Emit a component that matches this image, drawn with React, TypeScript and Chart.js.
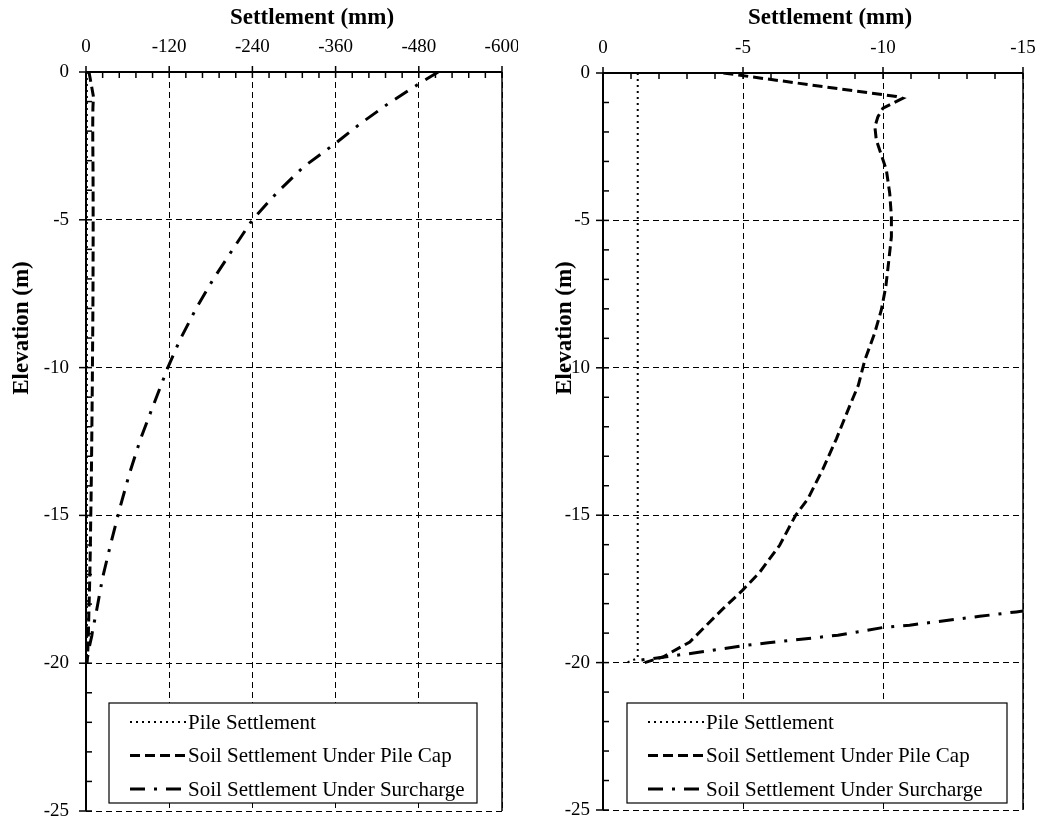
import React, { useEffect, useRef } from "react";
import { Chart, registerables } from "chart.js";

Chart.register(...registerables);

// ---------------- data ----------------
const seriesLabels = [
  "Pile Settlement",
  "Soil Settlement Under Pile Cap",
  "Soil Settlement Under Surcharge",
];

const pileElevation = [0, -19.85, -20];
const pileSettlement = [-1.24, -1.24, -0.85];

const capElevation = [
  0, -0.8, -0.86, -1.19, -1.48, -1.82, -2.27, -2.78, -3.29, -4.08, -4.87, -5.55,
  -6.34, -7.25, -8.04, -8.83, -9.74, -10.59, -11.27, -12.4, -13.42, -14.44, -15.0,
  -16.02, -16.93, -17.55, -18.17, -18.85, -19.3, -19.81, -20.0,
];
const capSettlement = [
  -4.3, -10.48, -10.7, -10.0, -9.82, -9.71, -9.76, -9.94, -10.12, -10.24, -10.3, -10.3,
  -10.21, -10.1, -9.94, -9.7, -9.35, -9.12, -8.82, -8.34, -7.86, -7.32, -6.88,
  -6.31, -5.6, -4.98, -4.29, -3.57, -3.1, -2.14, -1.49,
];

const surchargeElevation = [
  0, -0.39, -1.07, -1.75, -2.42, -3.21, -4.09, -5.0, -6.0, -7.0, -8.0, -9.1, -10.0,
  -11.33, -12.46, -13.6, -14.74, -15.93, -17.1, -18.28, -18.43, -18.73, -18.81,
  -19.07, -19.33, -19.43, -19.66, -19.92,
];
const surchargeSettlement = [
  -508, -480.7, -436, -395.5, -359.4, -313.7, -275, -240, -211.7, -183.8, -158.8, -134.7,
  -118, -96.2, -78, -62.5, -49, -36, -24, -14.76, -13.45, -10.95, -10.0, -8.39, -5.9,
  -4.98, -3.36, -1.31,
];

const xAxisTitle = "Settlement (mm)";
const yAxisTitle = "Elevation (m)";
const leftXTicks = [0, -120, -240, -360, -480, -600];
const rightXTicks = [0, -5, -10, -15];
const yTicks = [0, -5, -10, -15, -20, -25];

// ---------------- styling ----------------
const FONT = "'Liberation Serif', 'Times New Roman', Times, serif";

type Panel = {
  left: number;
  width: number;
  height: number;
  xTicks: number[];
  xMinorStep: number;
  yMinorStep: number;
  areaLeft: number;
  areaTop: number;
  padRight: number;
  padBottom: number;
  yTickPad: number;
  xTitleShift: number;
  xTitleY: number;
  yTitleX: number;
  yTitleY: number;
  legendOffset: number;
  legendWidth: number;
  legendTop: number;
  legendHeight: number;
};

const panels: Panel[] = [
  {
    left: 0, width: 518, height: 819,
    xTicks: leftXTicks, xMinorStep: 24, yMinorStep: 1,
    areaLeft: 86, areaTop: 72, padRight: 16, padBottom: 8, yTickPad: 17,
    xTitleShift: 18, xTitleY: 18, yTitleX: 22, yTitleY: 328,
    legendOffset: 23, legendWidth: 368, legendTop: 703, legendHeight: 100,
  },
  {
    left: 518, width: 519, height: 819,
    xTicks: rightXTicks, xMinorStep: 1, yMinorStep: 1,
    areaLeft: 85, areaTop: 73, padRight: 14, padBottom: 9, yTickPad: 13,
    xTitleShift: 17, xTitleY: 18, yTitleX: 47, yTitleY: 328,
    legendOffset: 24, legendWidth: 380, legendTop: 703, legendHeight: 100,
  },
];

function buildDatasets() {
  const toPts = (ys: number[], xs: number[]) => ys.map((y, i) => ({ x: xs[i], y }));
  return [
    {
      label: seriesLabels[0],
      data: toPts(pileElevation, pileSettlement),
      borderColor: "#000",
      borderWidth: 2,
      borderDash: [2, 4],
    },
    {
      label: seriesLabels[1],
      data: toPts(capElevation, capSettlement),
      borderColor: "#000",
      borderWidth: 3,
      borderDash: [10, 5],
    },
    {
      label: seriesLabels[2],
      data: toPts(surchargeElevation, surchargeSettlement),
      borderColor: "#000",
      borderWidth: 3,
      borderDash: [15, 9, 3, 9],
    },
  ].map((d) => ({
    ...d,
    showLine: true,
    fill: false,
    tension: 0,
    pointRadius: 0,
    pointHoverRadius: 0,
    backgroundColor: "#000",
  }));
}

function makePlugin(p: Panel) {
  return {
    id: "frameAndLegend",
    beforeDatasetsDraw(chart: any) {
      const { ctx, chartArea: a, scales } = chart;
      const xs = scales.x;
      const ys = scales.y;
      ctx.save();
      ctx.strokeStyle = "#000";
      ctx.setLineDash([]);
      ctx.lineWidth = 1.5;
      const xlo = Math.min(xs.min, xs.max);
      const xhi = Math.max(xs.min, xs.max);
      for (let v = xlo; v <= xhi + 1e-9; v += p.xMinorStep) {
        const px = xs.getPixelForValue(v);
        const major = p.xTicks.some((t) => Math.abs(t - v) < 1e-6);
        ctx.beginPath();
        ctx.moveTo(px, major ? a.top - 6 : a.top);
        ctx.lineTo(px, a.top + 6);
        ctx.stroke();
      }
      for (let v = ys.min; v <= ys.max + 1e-9; v += p.yMinorStep) {
        const py = ys.getPixelForValue(v);
        const major = yTicks.some((t) => Math.abs(t - v) < 1e-6);
        ctx.beginPath();
        ctx.moveTo(major ? a.left - 7 : a.left, py);
        ctx.lineTo(a.left + 6, py);
        ctx.stroke();
      }
      ctx.lineWidth = 2;
      ctx.beginPath();
      ctx.moveTo(a.left, a.top);
      ctx.lineTo(a.right, a.top);
      ctx.moveTo(a.left, a.top);
      ctx.lineTo(a.left, a.bottom);
      ctx.stroke();
      ctx.lineWidth = 1.5;
      ctx.beginPath();
      ctx.moveTo(a.right, a.top);
      ctx.lineTo(a.right, a.bottom);
      ctx.stroke();
      ctx.restore();
    },
    afterDatasetsDraw(chart: any) {
      const { ctx, chartArea: a } = chart;
      ctx.save();
      const bx = a.left + p.legendOffset;
      const by = p.legendTop;
      ctx.fillStyle = "#fff";
      ctx.fillRect(bx, by, p.legendWidth, p.legendHeight);
      ctx.strokeStyle = "#000";
      ctx.lineWidth = 1.2;
      ctx.setLineDash([]);
      ctx.strokeRect(bx, by, p.legendWidth, p.legendHeight);
      chart.data.datasets.forEach((ds: any, i: number) => {
        const cy = by + 19 + i * 33.5;
        ctx.setLineDash(ds.borderDash || []);
        ctx.lineWidth = ds.borderWidth;
        ctx.strokeStyle = ds.borderColor;
        ctx.beginPath();
        ctx.moveTo(bx + 21, cy);
        ctx.lineTo(bx + 77, cy);
        ctx.stroke();
        ctx.setLineDash([]);
        ctx.fillStyle = "#000";
        ctx.font = `21px ${FONT}`;
        ctx.textBaseline = "middle";
        ctx.textAlign = "left";
        ctx.fillText(ds.label, bx + 79, cy + 1);
      });
      ctx.fillStyle = "#000";
      ctx.font = `bold 23px ${FONT}`;
      ctx.textAlign = "center";
      ctx.textBaseline = "middle";
      ctx.fillText(xAxisTitle, (a.left + a.right) / 2 + p.xTitleShift, p.xTitleY);
      ctx.translate(p.yTitleX, p.yTitleY);
      ctx.rotate(-Math.PI / 2);
      ctx.fillText(yAxisTitle, 0, 0);
      ctx.restore();
    },
  };
}

function PanelChart({ p }: { p: Panel }) {
  const ref = useRef<HTMLCanvasElement | null>(null);
  useEffect(() => {
    if (!ref.current) return;
    const xMin = Math.min(...p.xTicks);
    const xMax = Math.max(...p.xTicks);
    const chart = new Chart(ref.current, {
      type: "scatter",
      data: { datasets: buildDatasets() as any },
      options: {
        animation: false,
        responsive: false,
        devicePixelRatio: 1,
        layout: { padding: { left: 0, top: 0, right: p.padRight, bottom: p.padBottom } },
        plugins: { legend: { display: false }, tooltip: { enabled: false }, title: { display: false } },
        scales: {
          x: {
            type: "linear",
            position: "top",
            min: xMin,
            max: xMax,
            reverse: true,
            afterBuildTicks: (s: any) => {
              s.ticks = p.xTicks.map((v) => ({ value: v }));
            },
            afterFit: (s: any) => {
              s.height = p.areaTop;
              s.paddingLeft = 0;
              s.paddingRight = 0;
            },
            ticks: {
              autoSkip: false,
              maxRotation: 0,
              color: "#000",
              padding: 14,
              font: { family: FONT, size: 19 },
              callback: (v: any) => String(v),
            },
            grid: { color: "#000", lineWidth: 1, drawTicks: false },
            border: { display: false, dash: [6, 4] },
          },
          y: {
            type: "linear",
            min: Math.min(...yTicks),
            max: Math.max(...yTicks),
            afterBuildTicks: (s: any) => {
              s.ticks = yTicks.map((v) => ({ value: v }));
            },
            afterFit: (s: any) => {
              s.width = p.areaLeft;
              s.paddingTop = 0;
              s.paddingBottom = 0;
            },
            ticks: {
              autoSkip: false,
              color: "#000",
              padding: p.yTickPad,
              font: { family: FONT, size: 19 },
              callback: (v: any) => String(v),
            },
            grid: { color: "#000", lineWidth: 1, drawTicks: false },
            border: { display: false, dash: [6, 4] },
          },
        },
      },
      plugins: [makePlugin(p)],
    });
    return () => chart.destroy();
  }, [p]);
  return (
    <canvas
      ref={ref}
      width={p.width}
      height={p.height}
      style={{ position: "absolute", left: p.left, top: 0, width: p.width, height: p.height }}
    />
  );
}

export default function App() {
  return (
    <div style={{ position: "absolute", left: 0, top: 0, width: 1037, height: 819, background: "#fff" }}>
      {panels.map((p, i) => (
        <PanelChart key={i} p={p} />
      ))}
    </div>
  );
}
